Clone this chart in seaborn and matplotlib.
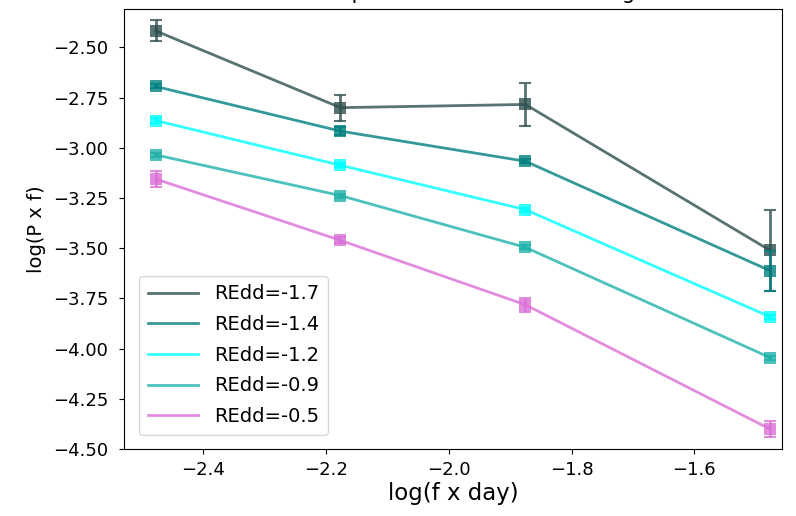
import numpy as np
import pandas as pd
import matplotlib
matplotlib.use("Agg")
import matplotlib.pyplot as plt
from matplotlib.lines import Line2D
import seaborn as sns

# data
log_freq = [-2.477, -2.176, -1.875, -1.477]
redd_labels = ["REdd=-1.7", "REdd=-1.4", "REdd=-1.2", "REdd=-0.9", "REdd=-0.5"]
p_m17 = [-2.417, -2.800, -2.784, -3.511]
p_m14 = [-2.694, -2.917, -3.067, -3.612]
p_m12 = [-2.864, -3.087, -3.308, -3.842]
p_m09 = [-3.035, -3.238, -3.496, -4.045]
p_m05 = [-3.155, -3.461, -3.782, -4.401]
e_m17 = [0.053, 0.065, 0.105, 0.20]
e_m14 = [0.01, 0.02, 0.01, 0.10]
e_m12 = [0.01, 0.01, 0.01, 0.01]
e_m09 = [0.01, 0.01, 0.01, 0.01]
e_m05 = [0.04, 0.015, 0.035, 0.04]
colors = ["#2F4F4F", "#008080", "#00FFFF", "#20B2AA", "#DA70D6"]

series = [p_m17, p_m14, p_m12, p_m09, p_m05]
errors = [e_m17, e_m14, e_m12, e_m09, e_m05]

rows = []
for lab, vals, errs in zip(redd_labels, series, errors):
    for x, y, e in zip(log_freq, vals, errs):
        rows.append({"logf": x, "logp": y, "err": e, "REdd": lab})
df = pd.DataFrame(rows)

fig = plt.figure(figsize=(7.96, 5.16), dpi=100)
ax = fig.add_axes([0.156, 0.130, 0.826, 0.852])

sns.lineplot(data=df, x="logf", y="logp", hue="REdd", hue_order=redd_labels,
             palette=colors, marker="s", markersize=9, markeredgewidth=0,
             linewidth=2, alpha=0.8, ax=ax, legend=False, errorbar=None)
for lab, col in zip(redd_labels, colors):
    sub = df[df["REdd"] == lab]
    ax.errorbar(sub["logf"], sub["logp"], yerr=sub["err"], fmt="none",
                ecolor=col, elinewidth=2, capsize=4, capthick=1.5, alpha=0.8)

ax.set_xlim(-2.528, -1.458)
ax.set_ylim(-4.5, -2.31)
ax.set_xticks([-2.4, -2.2, -2.0, -1.8, -1.6])
ax.set_yticks([-2.5, -2.75, -3.0, -3.25, -3.5, -3.75, -4.0, -4.25, -4.5])
ax.set_yticklabels(["−2.50", "−2.75", "−3.00", "−3.25", "−3.50", "−3.75", "−4.00", "−4.25", "−4.50"])
ax.tick_params(axis="y", labelsize=13, pad=8)
ax.tick_params(axis="x", labelsize=13, pad=5.5)
ax.set_xlabel("log(f x day)", fontsize=16.5, labelpad=2)
ax.set_ylabel("log(P x f)", fontsize=14, labelpad=5)
ax.set_title("Power spectrum with REdd binning", fontsize=15, pad=7.5)

handles = [Line2D([0], [0], color=c, lw=2, alpha=0.8) for c in colors]
ax.legend(handles, redd_labels, loc="lower left", fontsize=14,
          handlelength=2.6, borderpad=0.45, labelspacing=0.6,
          bbox_to_anchor=(0.008, 0.01))

fig.savefig("out.png", dpi=100)
